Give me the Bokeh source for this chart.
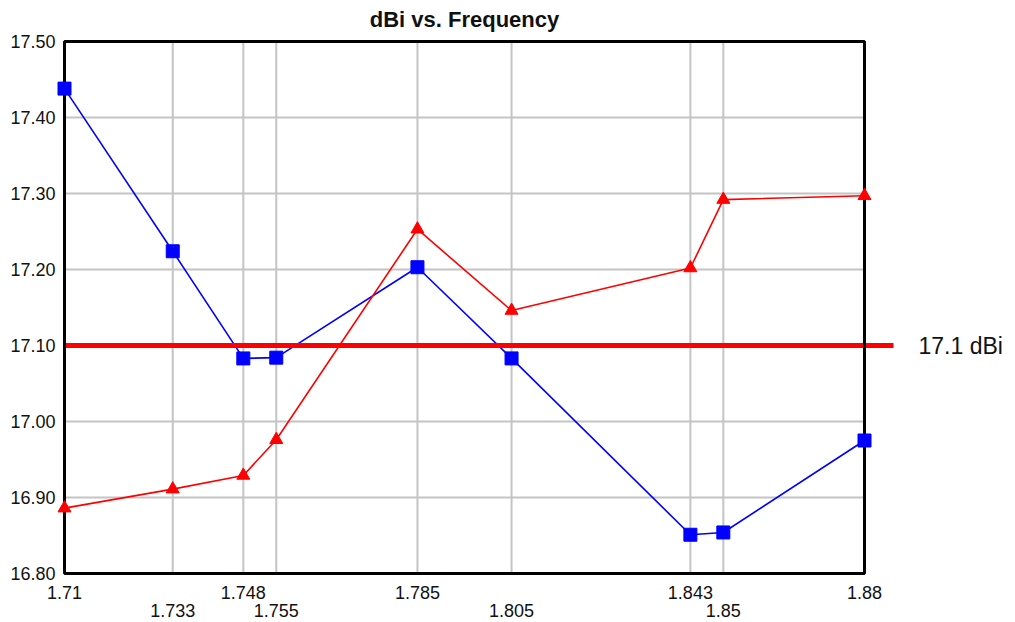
from bokeh.plotting import figure
from bokeh.embed import file_html
from bokeh.resources import INLINE
from bokeh.core.properties import value

# ---- data ----
freq = [1.71, 1.733, 1.748, 1.755, 1.785, 1.805, 1.843, 1.85, 1.88]
blue_dbi = [17.438, 17.224, 17.083, 17.084, 17.203, 17.083, 16.851, 16.854, 16.975]
red_dbi = [16.886, 16.911, 16.929, 16.976, 17.253, 17.146, 17.202, 17.292, 17.297]
threshold = 17.1
threshold_label = "17.1 dBi"
title_text = "dBi vs. Frequency"
y_ticks = [16.8, 16.9, 17.0, 17.1, 17.2, 17.3, 17.4, 17.5]
x_labels_row1 = ["1.71", "1.748", "1.785", "1.843", "1.88"]
x_labels_row2 = ["1.733", "1.755", "1.805", "1.85"]

# ---- layout (pixels on the canvas) ----
W, H = 1015, 622
BOX_L, BOX_R = 64, 864
BOX_T, BOX_B = 41, 573
FONT = "Liberation Sans"
GRID = "#c4c4c4"
INK = "#111111"

x0, x1 = freq[0], freq[-1]
y0, y1 = y_ticks[0], y_ticks[-1]
sx = (BOX_R - BOX_L) / (x1 - x0)
sy = (BOX_B - BOX_T) / (y1 - y0)
xs = x0 - BOX_L / sx
ye = y1 + BOX_T / sy

p = figure(
    width=W, height=H,
    x_range=(xs, xs + W / sx),
    y_range=(ye - H / sy, ye),
    x_axis_location=None, y_axis_location=None,
    output_backend="svg", toolbar_location=None,
    min_border=0, min_border_left=0, min_border_right=0,
    min_border_top=0, min_border_bottom=0,
)
p.outline_line_color = None
p.grid.visible = False
p.background_fill_color = "white"
p.border_fill_color = "white"

# grid lines inside the box
p.segment(x0=freq, y0=[y0] * len(freq), x1=freq, y1=[y1] * len(freq),
          line_color=GRID, line_width=2)
p.segment(x0=[x0] * len(y_ticks), y0=y_ticks, x1=[x1] * len(y_ticks), y1=y_ticks,
          line_color=GRID, line_width=2)

# series lines
p.line(freq, blue_dbi, line_color="#0000ff", line_width=1.6)
p.line(freq, red_dbi, line_color="#ff0000", line_width=1.6)

# threshold line, extending past the right edge
p.line([x0, x1 + 29 / sx], [threshold, threshold], line_color="#ff0000", line_width=5)

# frame box
p.quad(left=x0, right=x1, bottom=y0, top=y1, fill_color=None,
       line_color="black", line_width=3)

# markers
p.scatter(freq, blue_dbi, marker="square", size=13, fill_color="#0000ff", line_color="#0000ff")
p.scatter(freq, red_dbi, marker="triangle", size=13, fill_color="#ff0000", line_color="#ff0000")

# y tick labels
p.text(x=[x0 - 9 / sx] * len(y_ticks), y=y_ticks, text=["%.2f" % t for t in y_ticks],
       text_font=value(FONT), text_font_size=value("18px"), text_color=INK,
       text_align="right", text_baseline="middle")

# staggered x tick labels
for labels, off in ((x_labels_row1, 19), (x_labels_row2, 37)):
    p.text(x=[float(t) for t in labels], y=[y0 - off / sy] * len(labels), text=labels,
           text_font=value(FONT), text_font_size=value("18px"), text_color=INK,
           text_align="center", text_baseline="middle")

# threshold text
p.text(x=[x1 + (918 - BOX_R) / sx], y=[threshold], text=[threshold_label],
       text_font=value(FONT), text_font_size=value("23px"), text_color=INK,
       text_align="left", text_baseline="middle")

# title
p.text(x=[(x0 + x1) / 2], y=[y1 + 22 / sy], text=[title_text],
       text_font=value(FONT), text_font_size=value("22px"), text_font_style="bold",
       text_color=INK, text_align="center", text_baseline="middle")

open("out.html", "w").write(file_html(p, INLINE))
